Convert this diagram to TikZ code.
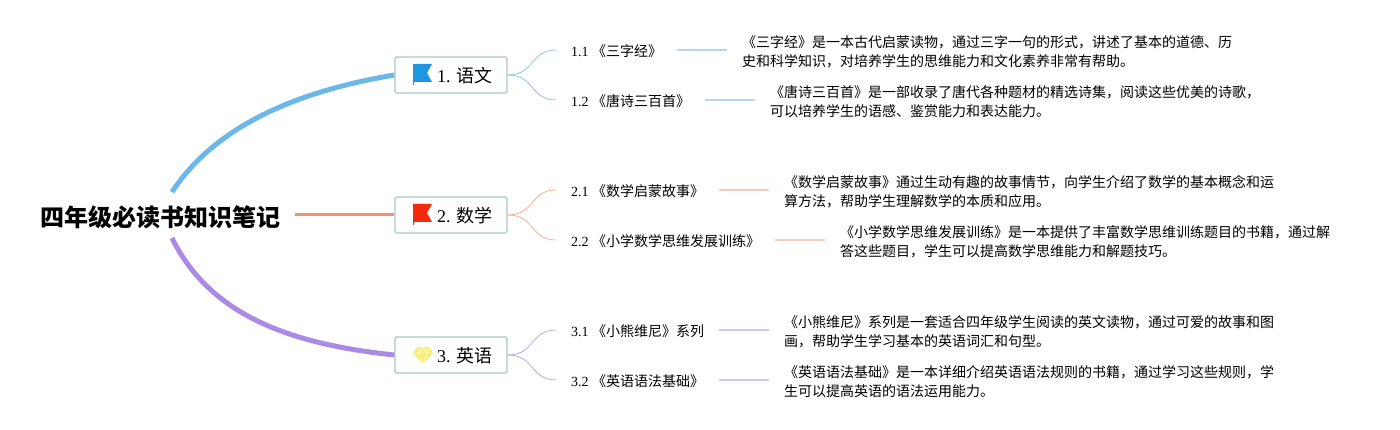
\documentclass[tikz,border=0pt]{standalone}
\usepackage{fontspec}
\setmainfont{Liberation Serif}
\newfontfamily\cjk{Noto Sans CJK SC}
\tikzset{
 x=1pt,y=-1pt,
 main/.style={draw=boxc,line width=1.4pt,rounded corners=1.5pt,fill=white,minimum width=112pt,minimum height=36pt,inner sep=0pt},
 mainlab/.style={font=\fontsize{18}{18}\selectfont,anchor=west,inner sep=0pt},
 sub/.style={font=\fontsize{14}{14}\selectfont,anchor=west,inner sep=0pt},
 desc/.style={font=\fontsize{14}{19.5}\selectfont,anchor=north west,inner sep=0pt,align=left},
 trunk/.style={line width=5pt},
 twig/.style={line width=0.8pt},
 stem/.style={line width=1.5pt},
}
\definecolor{boxc}{HTML}{A9C9C2}
\definecolor{cb}{HTML}{6BB7E8}
\definecolor{co}{HTML}{F4926B}
\definecolor{cp}{HTML}{AB8AE6}
\definecolor{tb}{HTML}{8FC6E2}
\definecolor{to}{HTML}{F3AE92}
\definecolor{tp}{HTML}{BBA8E4}
\definecolor{sb}{HTML}{B8D8EA}
\definecolor{so}{HTML}{F8CDB8}
\definecolor{sp}{HTML}{D3C6EE}
\definecolor{flagb}{HTML}{1E96E0}
\definecolor{flagr}{HTML}{F52A0C}
\definecolor{gem}{HTML}{F7EE6E}
\newcommand{\zh}[1]{{\cjk #1}}
\newcommand{\flagicon}[3]{
 \fill[#3] (#1,#2-8) -- (#1+19,#2-8) -- (#1+14,#2+1) -- (#1+19,#2+10) -- (#1+1,#2+10) -- (#1+1,#2+13) -- (#1,#2+13) -- cycle;
}
\begin{document}
\begin{tikzpicture}
\useasboundingbox (0,0) rectangle (1400,430);
\node[anchor=west,inner sep=0pt,font=\fontsize{24}{24}\selectfont\cjk\bfseries] (root) at (40,217) {四年级必读书知识笔记};
\coordinate (rt) at (172,192);
\coordinate (rb) at (172,238);
\coordinate (rr) at (295,215);
\node[main] (m1) at (451,75) {};
\node[main] (m2) at (451,215) {};
\node[main] (m3) at (451,355) {};
\draw[cb,trunk] (rt) .. controls (218,122) and (305,90) .. (m1.west);
\draw[co,line width=3pt] (rr) -- (m2.west);
\draw[cp,trunk] (rb) .. controls (212,320) and (300,345) .. (m3.west);
\flagicon{413}{72}{flagb}
\flagicon{413}{212}{flagr}
\begin{scope}[shift={(423,355)}]
 \fill[gem] (-6,-8) -- (6,-8) -- (10,-2) -- (0,9) -- (-10,-2) -- cycle;
 \draw[white,line width=0.5pt] (-10,-2) -- (10,-2) (-5,-8) -- (-4,-2) -- (0,9) -- (4,-2) -- (5,-8) (-4,-2) -- (0,-8) -- (4,-2);
\end{scope}
\node[mainlab] (l1) at (437,76) {1. \zh{语文}};
\node[mainlab] (l2) at (437,216) {2. \zh{数学}};
\node[mainlab] (l3) at (437,356) {3. \zh{英语}};
% sub nodes
\node[sub] (a1) at (571,51) {1.1 \zh{《三字经》}};
\node[sub] (a2) at (571,101) {1.2 \zh{《唐诗三百首》}};
\node[sub] (b1) at (571,191) {2.1 \zh{《数学启蒙故事》}};
\node[sub] (b2) at (571,241) {2.2 \zh{《小学数学思维发展训练》}};
\node[sub] (c1) at (571,331) {3.1 \zh{《小熊维尼》系列}};
\node[sub] (c2) at (571,381) {3.2 \zh{《英语语法基础》}};
\draw[tb,twig] (m1.east) .. controls (535,75) and (530,50) .. (556,50);
\draw[tb,twig] (m1.east) .. controls (535,75) and (530,100) .. (556,100);
\draw[to,twig] (m2.east) .. controls (535,215) and (530,190) .. (556,190);
\draw[to,twig] (m2.east) .. controls (535,215) and (530,240) .. (556,240);
\draw[tp,twig] (m3.east) .. controls (535,355) and (530,330) .. (556,330);
\draw[tp,twig] (m3.east) .. controls (535,355) and (530,380) .. (556,380);
% stems
\coordinate (da1) at (727,50);\coordinate (sa1) at (677,50);
\coordinate (da2) at (755,100);\coordinate (sa2) at (705,100);
\coordinate (db1) at (769,190);\coordinate (sb1) at (719,190);
\coordinate (db2) at (825,240);\coordinate (sb2) at (775,240);
\coordinate (dc1) at (769,330);\coordinate (sc1) at (719,330);
\coordinate (dc2) at (769,380);\coordinate (sc2) at (719,380);
\draw[sb,stem] (sa1) -- (da1);
\draw[sb,stem] (sa2) -- (da2);
\draw[so,stem] (sb1) -- (db1);
\draw[so,stem] (sb2) -- (db2);
\draw[sp,stem] (sc1) -- (dc1);
\draw[sp,stem] (sc2) -- (dc2);
\node[desc] (ta) at (742,35) {\cjk 《三字经》是一本古代启蒙读物，通过三字一句的形式，讲述了基本的道德、历\\\cjk 史和科学知识，对培养学生的思维能力和文化素养非常有帮助。};
\node[desc] (tb) at (770,85) {\cjk 《唐诗三百首》是一部收录了唐代各种题材的精选诗集，阅读这些优美的诗歌，\\\cjk 可以培养学生的语感、鉴赏能力和表达能力。};
\node[desc] (tc) at (784,175) {\cjk 《数学启蒙故事》通过生动有趣的故事情节，向学生介绍了数学的基本概念和运\\\cjk 算方法，帮助学生理解数学的本质和应用。};
\node[desc] (td) at (840,225) {\cjk 《小学数学思维发展训练》是一本提供了丰富数学思维训练题目的书籍，通过解\\\cjk 答这些题目，学生可以提高数学思维能力和解题技巧。};
\node[desc] (te) at (784,315) {\cjk 《小熊维尼》系列是一套适合四年级学生阅读的英文读物，通过可爱的故事和图\\\cjk 画，帮助学生学习基本的英语词汇和句型。};
\node[desc] (tf) at (784,365) {\cjk 《英语语法基础》是一本详细介绍英语语法规则的书籍，通过学习这些规则，学\\\cjk 生可以提高英语的语法运用能力。};
\end{tikzpicture}
\end{document}
